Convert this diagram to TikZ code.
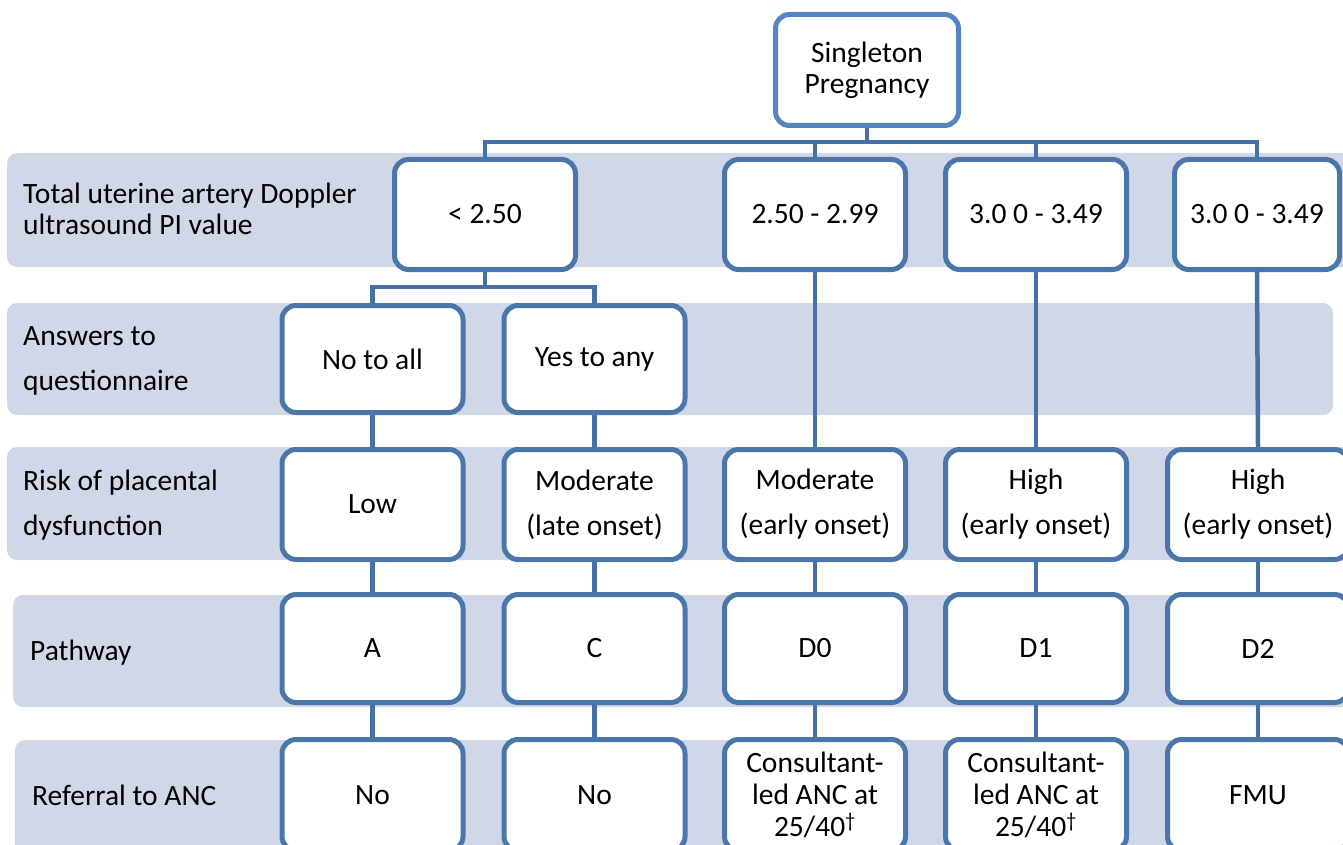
\documentclass[tikz,border=0pt]{standalone}
\usepackage{fontspec}
\setmainfont{Carlito}
\definecolor{bandc}{HTML}{D0D8E8}
\definecolor{boxc}{HTML}{4A76AA}
\definecolor{topc}{HTML}{5585C1}
\definecolor{linec}{HTML}{4670A6}
\begin{document}
\begin{tikzpicture}[x=1pt,y=-1pt,
  band/.style={fill=bandc, rounded corners=10pt},
  box/.style={draw=boxc, line width=5pt, fill=white, rounded corners=14pt,
    minimum width=181pt, align=center, inner sep=0pt,
    font=\fontsize{29.5}{31}\selectfont},
  wide/.style={font=\fontsize{29.5}{45}\selectfont},
  tight/.style={font=\fontsize{29.5}{32}\selectfont},
  conn/.style={draw=linec, line width=4.5pt},
  lbl/.style={anchor=west, align=left, inner sep=0pt,
    font=\fontsize{29.5}{31}\selectfont}]
\useasboundingbox (0,0) rectangle (1343,845);
\clip (0,0) rectangle (1343,845);
% bands
\fill[band] (7,153) rectangle (1360,267);
\fill[band] (7,303) rectangle (1333,415);
\fill[band] (7,447) rectangle (1360,560);
\fill[band] (13,595) rectangle (1360,707);
\fill[band] (15,740) rectangle (1360,870);
% labels
\node[lbl] (l1) at (23,209) {Total uterine artery Doppler\\ultrasound PI value};
\node[lbl, wide] (l2) at (23,361) {Answers to\\questionnaire};
\node[lbl, wide] (l3) at (23,505) {Risk of placental\\dysfunction};
\node[lbl] (l4) at (30,653) {Pathway};
\node[lbl] (l5) at (32,795) {Referral to ANC};
% top
\node[box, draw=topc, minimum width=183pt, minimum height=111pt] (top) at (867,70) {Singleton\\Pregnancy};
% row 1
\node[box, minimum height=110pt] (r1a) at (485,214.5) {< 2.50};
\node[box, minimum height=110pt] (r1b) at (815,214.5) {2.50 - 2.99};
\node[box, minimum height=110pt] (r1c) at (1036,214.5) {3.0 0 - 3.49};
\node[box, minimum height=110pt, minimum width=165pt] (r1d) at (1257,214.5) {3.0 0 - 3.49};
% row 2
\node[box, minimum height=107pt] (r2a) at (372.5,359) {No to all};
\node[box, minimum height=107pt] (r2b) at (594.5,359) {Yes to any};
% row 3
\node[box, wide, minimum height=110pt] (r3a) at (372.5,504.5) {Low};
\node[box, wide, minimum height=110pt] (r3b) at (594.5,504.5) {Moderate\\(late onset)};
\node[box, wide, minimum height=110pt] (r3c) at (815,504.5) {Moderate\\(early onset)};
\node[box, wide, minimum height=110pt] (r3d) at (1036,504.5) {High\\(early onset)};
\node[box, wide, minimum height=110pt] (r3e) at (1258,504.5) {High\\(early onset)};
% row 4
\node[box, minimum height=108pt] (r4a) at (372.5,648.5) {A};
\node[box, minimum height=108pt] (r4b) at (594.5,648.5) {C};
\node[box, minimum height=108pt] (r4c) at (815,648.5) {D0};
\node[box, minimum height=108pt] (r4d) at (1036,648.5) {D1};
\node[box, minimum height=108pt] (r4e) at (1258,648.5) {D2};
% row 5
\node[box, minimum height=111pt] (r5a) at (372.5,795) {No};
\node[box, minimum height=111pt] (r5b) at (594.5,795) {No};
\node[box, tight, minimum height=111pt] (r5c) at (815,795) {Consultant-\\led ANC at\\25/40\textsuperscript{†}};
\node[box, tight, minimum height=111pt] (r5d) at (1036,795) {Consultant-\\led ANC at\\25/40\textsuperscript{†}};
\node[box, minimum height=111pt] (r5e) at (1258,795) {FMU};
% connectors
\coordinate (bus) at (867,142);
\draw[conn] (top.south) -- (bus);
\draw[conn] (r1a.north) |- (bus) -| (r1d.north);
\draw[conn] (r1b.north) -- (r1b.north |- bus);
\draw[conn] (r1c.north) -- (r1c.north |- bus);
\coordinate (bus2) at (485,287);
\draw[conn] (r1a.south) -- (bus2);
\draw[conn] (r2a.north) |- (bus2) -| (r2b.north);
\draw[conn] (r2a.south) -- (r3a.north);
\draw[conn] (r2b.south) -- (r3b.north);
\draw[conn] (r1b.south) -- (r3c.north);
\draw[conn] (r1c.south) -- (r3d.north);
\draw[conn] (r1d.south) -- (r3e.north);
\foreach \c in {a,b,c,d,e}{
  \draw[conn] (r3\c.south) -- (r4\c.north);
  \draw[conn] (r4\c.south) -- (r5\c.north);
}
\end{tikzpicture}
\end{document}
